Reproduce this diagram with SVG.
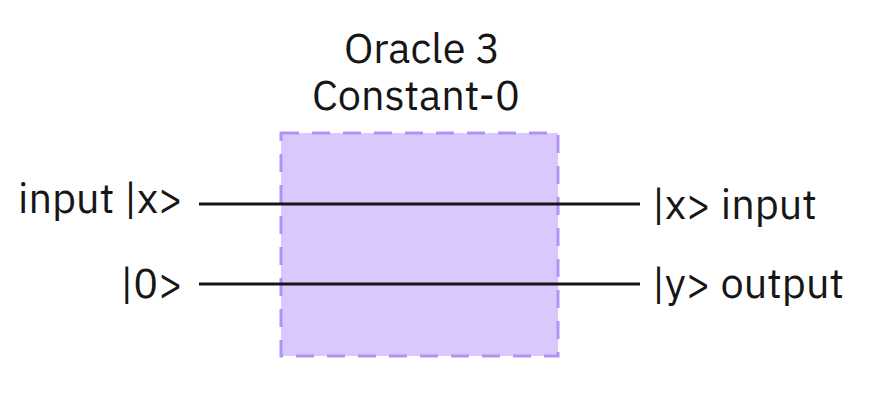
<svg xmlns="http://www.w3.org/2000/svg" width="894" height="412" viewBox="0 0 894 412">
<style>
text{font-family:"IBM Plex Sans",Inter,"Noto Sans","Liberation Sans",sans-serif;font-size:41.5px;fill:#161616}
.wire{stroke:#161616;stroke-width:3;fill:none}
.box{fill:#d9c8fb;stroke:#b491f5;stroke-width:3;stroke-dasharray:18 13}
</style>
<rect width="894" height="412" fill="#ffffff"/>
<g id="oracle">
<rect class="box" x="281" y="133" width="277" height="223"/>
<text x="422" y="63" text-anchor="middle">Oracle 3</text>
<text x="416" y="110" text-anchor="middle">Constant-0</text>
</g>
<g id="in-x"><text x="183" y="213" text-anchor="end">input |x&gt;</text></g>
<g id="in-0"><text x="183" y="298" text-anchor="end">|0&gt;</text></g>
<g id="out-x"><text x="652" y="219">|x&gt; input</text></g>
<g id="out-y"><text x="652" y="298">|y&gt; output</text></g>
<g id="connectors">
<line class="wire" x1="199" y1="204" x2="640" y2="204"/>
<line class="wire" x1="199" y1="284" x2="640" y2="284"/>
</g>
</svg>
